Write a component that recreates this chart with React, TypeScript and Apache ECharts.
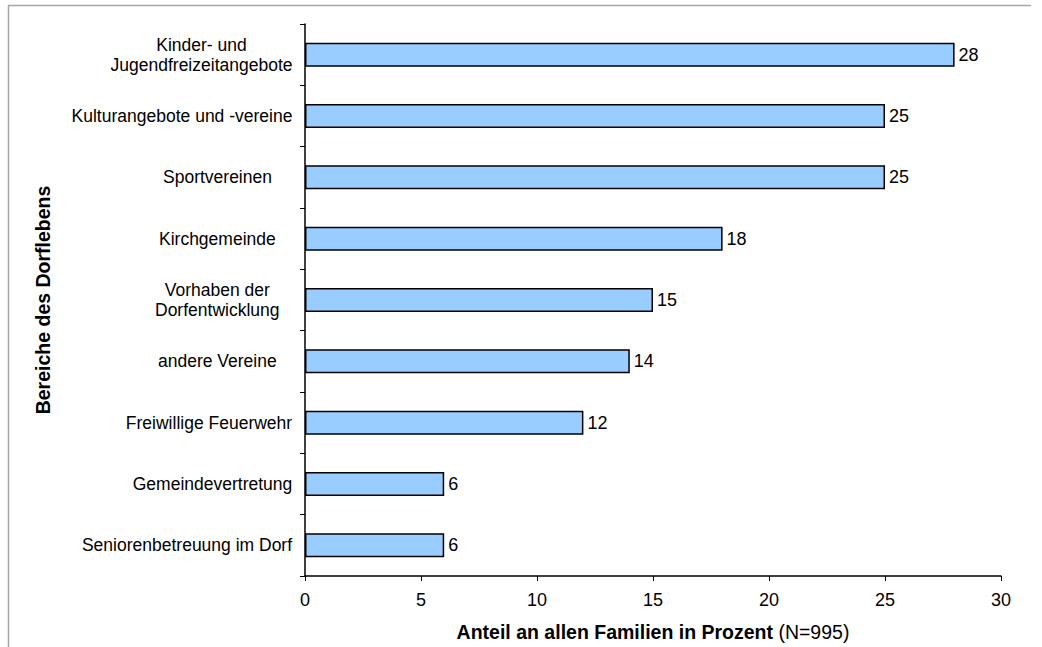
import React, { useEffect, useRef } from "react";
import * as echarts from "echarts";

const categories = [
  "Kinder- und\nJugendfreizeitangebote",
  "Kulturangebote und -vereine",
  "Sportvereinen",
  "Kirchgemeinde",
  "Vorhaben der\nDorfentwicklung",
  "andere Vereine",
  "Freiwillige Feuerwehr",
  "Gemeindevertretung",
  "Seniorenbetreuung im Dorf",
];
const values = [28, 25, 25, 18, 15, 14, 12, 6, 6];
const xTicks = [0, 5, 10, 15, 20, 25, 30];
const yAxisTitle = "Bereiche des Dorflebens";
const xAxisTitleBold = "Anteil an allen Familien in Prozent";
const xAxisTitleNormal = " (N=995)";

const FONT = "Arial, 'Liberation Sans', sans-serif";
const LABEL_SIZE = 17.5;

export default function App() {
  const ref = useRef<HTMLDivElement>(null);
  useEffect(() => {
    if (!ref.current) return;
    const chart = echarts.init(ref.current, null, { renderer: "svg" });

    const canvas = document.createElement("canvas");
    const ctx = canvas.getContext("2d")!;
    ctx.font = `${LABEL_SIZE}px 'Liberation Sans', Arial, sans-serif`;
    const rich: Record<string, any> = {};
    const centerX = 218;
    const rightLimit = 293;
    categories.forEach((c, i) => {
      const lines = c.split("\n");
      const w = Math.max(...lines.map((l) => ctx.measureText(l).width));
      const rightEdge = Math.min(rightLimit, centerX + w / 2);
      const pad = Math.max(0, rightLimit - rightEdge);
      rich["c" + i] = {
        width: Math.ceil(w) + 1,
        align: "center",
        padding: [0, pad, 0, 0],
        fontSize: LABEL_SIZE,
        fontFamily: FONT,
        color: "#000",
        lineHeight: 20,
      };
    });

    chart.setOption({
      animation: false,
      backgroundColor: "#fff",
      grid: { left: 305, right: 41, top: 24, bottom: 71, containLabel: false },
      graphic: [
        {
          type: "line",
          shape: { x1: 8, y1: 5.5, x2: 1031, y2: 5.5 },
          style: { stroke: "#a6a6a6", lineWidth: 1.5 },
        },
        {
          type: "line",
          shape: { x1: 8.5, y1: 5, x2: 8.5, y2: 647 },
          style: { stroke: "#a6a6a6", lineWidth: 1.5 },
        },
      ],
      xAxis: {
        type: "value",
        min: xTicks[0],
        max: xTicks[xTicks.length - 1],
        interval: 5,
        splitLine: { show: false },
        axisLine: { show: true, lineStyle: { color: "#000", width: 1.5 } },
        axisTick: { show: true, length: 5, lineStyle: { color: "#000" } },
        axisLabel: { color: "#000", fontSize: 18, fontFamily: FONT, margin: 15 },
        name: `{b|${xAxisTitleBold}}{n|${xAxisTitleNormal}}`,
        nameLocation: "middle",
        nameGap: 46,
        nameTextStyle: {
          rich: {
            b: { fontWeight: "bold", fontSize: 19.5, fontFamily: FONT, color: "#000" },
            n: { fontWeight: "normal", fontSize: 19.5, fontFamily: FONT, color: "#000" },
          },
        },
      },
      yAxis: {
        type: "category",
        data: categories,
        inverse: true,
        axisLine: { show: true, lineStyle: { color: "#000", width: 1.5 } },
        axisTick: { show: true, length: 5, lineStyle: { color: "#000" } },
        axisLabel: {
          margin: 12,
          align: "right",
          rich,
          formatter: (value: string, idx: number) =>
            value
              .split("\n")
              .map((l) => `{c${idx}|${l}}`)
              .join("\n"),
        },
        name: yAxisTitle,
        nameLocation: "middle",
        nameGap: 252,
        nameRotate: 90,
        nameTextStyle: { fontWeight: "bold", fontSize: 19.5, fontFamily: FONT, color: "#000" },
      },
      series: [
        {
          type: "bar",
          data: values,
          barWidth: 24,
          itemStyle: { color: "#99CCFF", borderColor: "#000", borderWidth: 1.5 },
          label: {
            show: true,
            position: "right",
            distance: 4,
            color: "#000",
            fontSize: 18,
            fontFamily: FONT,
          },
        },
      ],
    });
    return () => chart.dispose();
  }, []);

  return (
    <div
      ref={ref}
      style={{ position: "fixed", left: 0, top: 0, width: 1042, height: 647, background: "#fff" }}
    />
  );
}
